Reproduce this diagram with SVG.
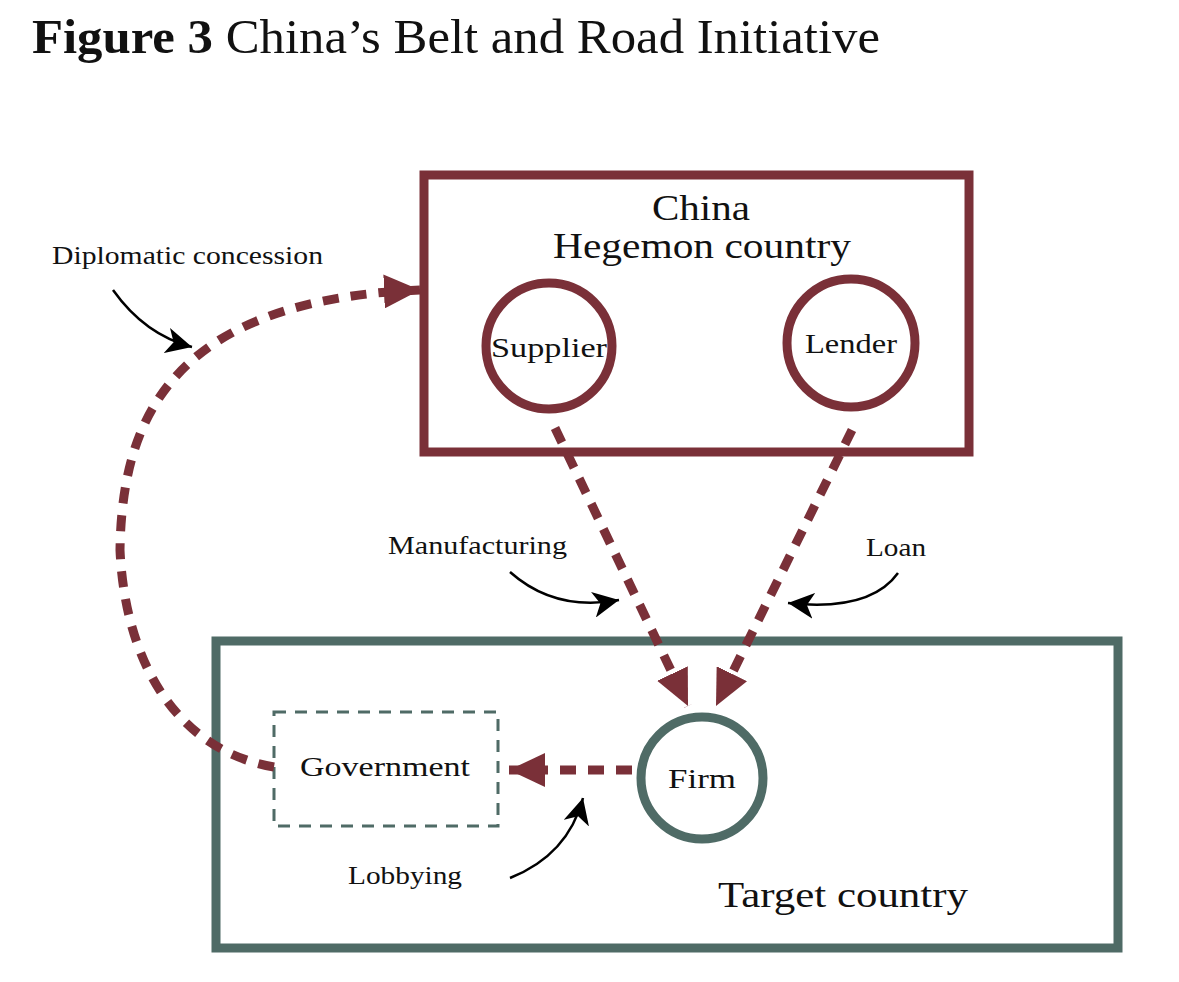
<svg xmlns="http://www.w3.org/2000/svg" width="1179" height="982" viewBox="0 0 1179 982">
<style>
.t{font-family:"Liberation Serif","DejaVu Serif",serif;fill:#111}
.red{fill:none;stroke:#7a3038;stroke-width:9}
.green{fill:none;stroke:#4f6b66;stroke-width:9}
.dash{fill:none;stroke:#7a3038;stroke-width:9;stroke-dasharray:16 12}
.ann{fill:none;stroke:#000;stroke-width:2.5}
</style>
<defs>
<marker id="rh" markerUnits="userSpaceOnUse" markerWidth="36" markerHeight="34" refX="36" refY="17" orient="auto">
<path d="M0,0 L36,17 L0,34 z" fill="#7a3038"/>
</marker>
<marker id="bh" markerUnits="userSpaceOnUse" markerWidth="28" markerHeight="26" refX="26" refY="13" orient="auto">
<path d="M0,0 L26,13 L0,26 L7,13 z" fill="#000"/>
</marker>
</defs>
<rect width="1179" height="982" fill="#fff"/>
<text class="t" x="32" y="53" font-size="48" textLength="848" lengthAdjust="spacingAndGlyphs"><tspan font-weight="bold">Figure 3</tspan> China’s Belt and Road Initiative</text>

<g id="china">
<rect class="red" x="424" y="175" width="545" height="277"/>
<text class="t" x="701" y="220" font-size="36" text-anchor="middle" textLength="98" lengthAdjust="spacingAndGlyphs">China</text>
<text class="t" x="702" y="258" font-size="36" text-anchor="middle" textLength="298" lengthAdjust="spacingAndGlyphs">Hegemon country</text>
</g>
<g id="supplier">
<circle class="red" cx="549" cy="346" r="63"/>
<text class="t" x="549" y="357" font-size="28" text-anchor="middle" textLength="116" lengthAdjust="spacingAndGlyphs">Supplier</text>
</g>
<g id="lender">
<circle class="red" cx="851" cy="343" r="64"/>
<text class="t" x="851" y="353" font-size="28" text-anchor="middle" textLength="92" lengthAdjust="spacingAndGlyphs">Lender</text>
</g>
<g id="target">
<rect class="green" x="216" y="641" width="902" height="307"/>
<text class="t" x="843" y="907" font-size="36" text-anchor="middle" textLength="250" lengthAdjust="spacingAndGlyphs">Target country</text>
</g>
<g id="firm">
<circle class="green" cx="702" cy="778" r="61"/>
<text class="t" x="702" y="788" font-size="28" text-anchor="middle" textLength="68" lengthAdjust="spacingAndGlyphs">Firm</text>
</g>
<g id="government">
<rect x="274" y="712" width="224" height="114" fill="none" stroke="#4f6b66" stroke-width="3" stroke-dasharray="12 9"/>
<text class="t" x="385" y="776" font-size="28" text-anchor="middle" textLength="170" lengthAdjust="spacingAndGlyphs">Government</text>
</g>

<g id="connectors">
<path class="dash" d="M555,428 L688,706" marker-end="url(#rh)"/>
<path class="dash" d="M852,430 L716,706" marker-end="url(#rh)"/>
<path class="dash" d="M632,770 L509,770" marker-end="url(#rh)"/>
<path class="dash" d="M274,767 C175,750 125,660 120,550 C122,420 170,300 420,290" marker-end="url(#rh)"/>
<path class="ann" d="M113,290 Q145,335 192,347" marker-end="url(#bh)"/>
<path class="ann" d="M510,572 Q555,612 619,600" marker-end="url(#bh)"/>
<path class="ann" d="M898,573 Q870,612 788,603" marker-end="url(#bh)"/>
<path class="ann" d="M510,878 Q568,855 583,798" marker-end="url(#bh)"/>
</g>
<g id="labels">
<text class="t" x="52" y="264" font-size="25" textLength="271" lengthAdjust="spacingAndGlyphs">Diplomatic concession</text>
<text class="t" x="388" y="554" font-size="25" textLength="179" lengthAdjust="spacingAndGlyphs">Manufacturing</text>
<text class="t" x="866" y="556" font-size="25" textLength="60" lengthAdjust="spacingAndGlyphs">Loan</text>
<text class="t" x="348" y="884" font-size="25" textLength="114" lengthAdjust="spacingAndGlyphs">Lobbying</text>
</g>
</svg>
